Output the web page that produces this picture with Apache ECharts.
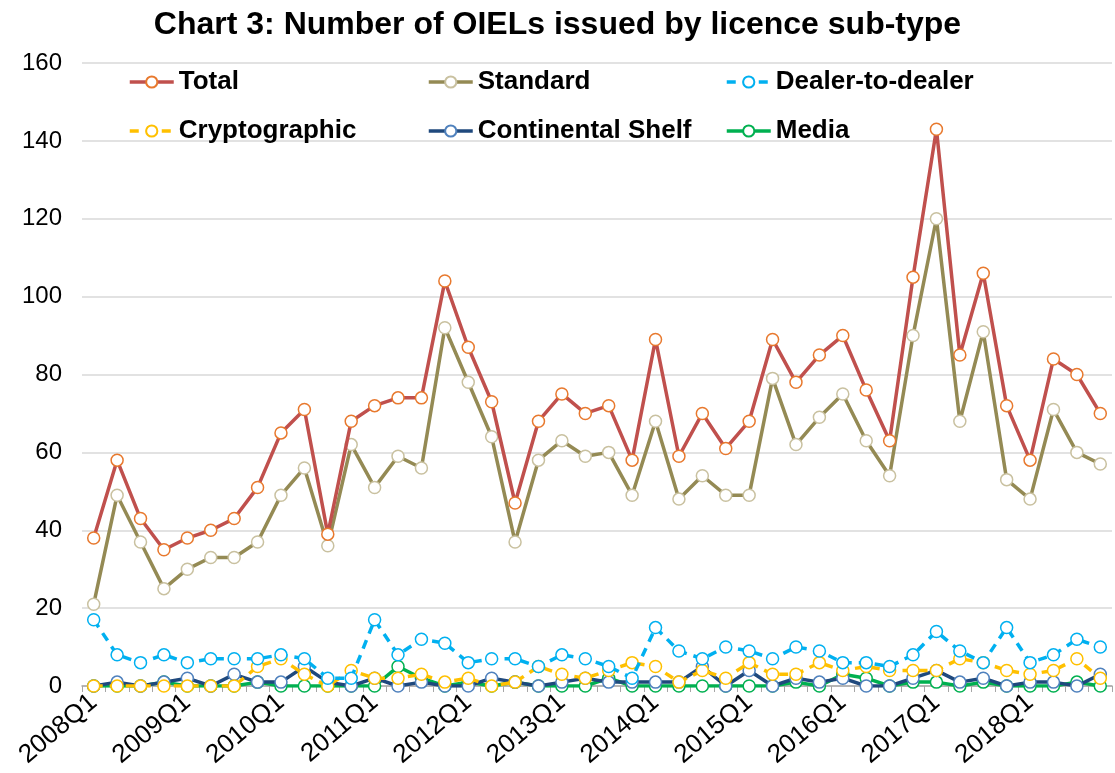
<!DOCTYPE html>
<html>
<head>
<meta charset="utf-8">
<script src="https://cdn.jsdelivr.net/npm/echarts@6/dist/echarts.min.js"></script>
<style>
  html, body { margin: 0; padding: 0; background: #fff; }
  #chart { width: 1115px; height: 773px; }
</style>
</head>
<body>
<div id="chart"></div>
<script>
// quarters 2008Q1 .. 2018Q4
const years = [2008, 2009, 2010, 2011, 2012, 2013, 2014, 2015, 2016, 2017, 2018]
const quarters = []
years.forEach(y => { for (let q = 1; q <= 4; q++) quarters.push(y + 'Q' + q) })

const total = [38, 58, 43, 35, 38, 40, 43, 51, 65, 71, 39, 68, 72, 74, 74, 104, 87, 73, 47, 68, 75, 70,
  72, 58, 89, 59, 70, 61, 68, 89, 78, 85, 90, 76, 63, 105, 143, 85, 106, 72, 58, 84, 80, 70]
const standard = [21, 49, 37, 25, 30, 33, 33, 37, 49, 56, 36, 62, 51, 59, 56, 92, 78, 64, 37, 58, 63, 59,
  60, 49, 68, 48, 54, 49, 49, 79, 62, 69, 75, 63, 54, 90, 120, 68, 91, 53, 48, 71, 60, 57]
const dealer = [17, 8, 6, 8, 6, 7, 7, 7, 8, 7, 2, 2, 17, 8, 12, 11, 6, 7, 7, 5, 8, 7,
  5, 2, 15, 9, 7, 10, 9, 7, 10, 9, 6, 6, 5, 8, 14, 9, 6, 15, 6, 8, 12, 10]
const crypto = [0, 0, 0, 0, 0, 0, 0, 5, 7, 3, 0, 4, 2, 2, 3, 1, 2, 0, 1, 5, 3, 2,
  4, 6, 5, 1, 4, 2, 6, 3, 3, 6, 4, 5, 4, 4, 4, 7, 6, 4, 3, 4, 7, 2]
const shelf = [0, 1, 0, 1, 2, 0, 3, 1, 1, 5, 1, 0, 2, 0, 1, 0, 0, 2, 1, 0, 1, 2,
  1, 1, 1, 1, 5, 0, 4, 0, 2, 1, 2, 0, 0, 2, 4, 1, 2, 0, 1, 1, 0, 3]
const media = [0, 0, 0, 1, 0, 0, 0, 1, 0, 0, 0, 0, 0, 5, 2, 0, 1, 0, 1, 0, 0, 0,
  2, 0, 0, 0, 0, 0, 0, 0, 1, 0, 3, 2, 0, 1, 1, 0, 1, 0, 0, 0, 1, 0]

const FONT = 'Liberation Sans, Arial, sans-serif'

const seriesDefs = [
  { name: 'Total', data: total, line: '#C0504D', border: '#E8792E', dash: 'solid' },
  { name: 'Standard', data: standard, line: '#948A54', border: '#C9C1A0', dash: 'solid' },
  { name: 'Dealer-to-dealer', data: dealer, line: '#00B0F0', border: '#00B0F0', dash: [9, 7] },
  { name: 'Cryptographic', data: crypto, line: '#FFC000', border: '#FFC000', dash: [9, 7] },
  { name: 'Continental Shelf', data: shelf, line: '#1F497D', border: '#4F81BD', dash: 'solid' },
  { name: 'Media', data: media, line: '#00B050', border: '#00B050', dash: 'solid' }
]

// legend slots: 3 columns x 2 rows
const legendCols = [128, 427, 725]
const legendRows = [69, 118]

const chart = echarts.init(document.getElementById('chart'), null, { renderer: 'canvas' })

const option = {
  animation: false,
  backgroundColor: '#fff',
  title: {
    text: 'Chart 3: Number of OIELs issued by licence sub-type',
    left: 'center',
    top: 4,
    textStyle: { fontFamily: FONT, fontSize: 32, fontWeight: 'bold', color: '#000' }
  },
  legend: seriesDefs.map((s, i) => ({
    data: [s.name],
    left: legendCols[i % 3],
    top: legendRows[Math.floor(i / 3)],
    padding: 0,
    itemWidth: 44,
    itemHeight: 14,
    itemGap: 0,
    lineStyle: { width: 3.5 },
    textStyle: { fontFamily: FONT, fontSize: 26, fontWeight: 'bold', color: '#000' }
  })),
  grid: { left: 82, right: 3, top: 63, bottom: 87, containLabel: false },
  xAxis: {
    type: 'category',
    data: quarters,
    boundaryGap: true,
    axisLine: { lineStyle: { color: '#A6A6A6', width: 1.5 } },
    axisTick: { show: true, interval: 0, length: 6, lineStyle: { color: '#A6A6A6' } },
    axisLabel: {
      interval: 3,
      rotate: 40,
      margin: 13,
      fontFamily: FONT,
      fontSize: 26,
      color: '#000'
    },
    splitLine: { show: false }
  },
  yAxis: {
    type: 'value',
    min: 0,
    max: 160,
    interval: 20,
    axisLine: { show: false },
    axisTick: { show: false },
    axisLabel: { fontFamily: FONT, fontSize: 24, color: '#000', margin: 20 },
    splitLine: { lineStyle: { color: '#D9D9D9', width: 1.5 } }
  },
  series: seriesDefs.map((s, i) => ({
    name: s.name,
    type: 'line',
    data: s.data,
    symbol: 'circle',
    symbolSize: 12,
    showAllSymbol: true,
    z: 10 - i,
    lineStyle: { color: s.line, width: 3.5, type: s.dash },
    itemStyle: { color: '#fff', borderColor: s.border, borderWidth: 1.5 },
    emphasis: { disabled: true }
  }))
}

chart.setOption(option)
</script>
</body>
</html>
